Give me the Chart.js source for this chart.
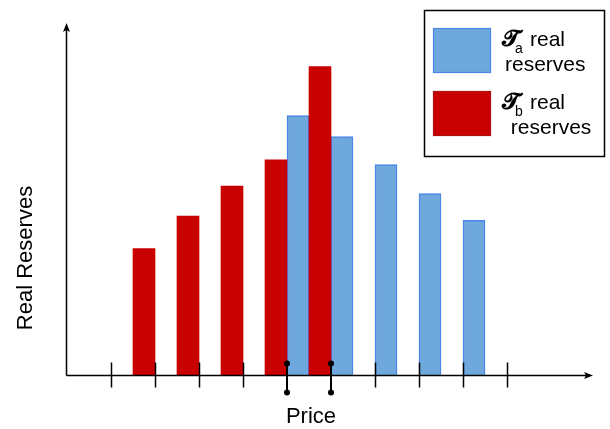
<!DOCTYPE html>
<html><head><meta charset="utf-8">
<script src="https://cdn.jsdelivr.net/npm/chart.js@4/dist/chart.umd.min.js"></script>
<style>html,body{margin:0;padding:0;background:#fff}canvas{display:block}</style>
</head><body>
<canvas id="c" width="610" height="429"></canvas>
<script>
const priceLevels = ['P0','P1','P2','P3','P4','P5','P6','P7','P8','P9'];
const taReserves = [null,null,null,null,74.1,68.1,60.1,51.8,44.2,null];
const tbReserves = [null,36.1,45.4,54.0,61.5,88.1,null,null,null,null];
const markedPrices = ['P4','P5'];
const seriesSubscripts = ['a','b'];
const seriesLine1 = ['real','real'];
const seriesLine2 = ['reserves',' reserves'];
const xAxisTitle = 'Price';
const yAxisTitle = 'Real Reserves';

const RED = '#c80000', BLUE = '#6fa8dc', BLUE_EDGE = '#4a86e8';
const FONT = '"Liberation Sans", Arial, sans-serif';

const drawing = {
  id: 'drawing',
  afterDatasetsDraw(chart) {
    const ctx = chart.ctx, xs = chart.scales.x, ys = chart.scales.y;
    const y0 = Math.round(ys.getPixelForValue(0)) + 0.5;
    const ax = xs.left - 22.5;
    ctx.save();
    ctx.strokeStyle = '#000'; ctx.fillStyle = '#000'; ctx.lineWidth = 1.5;
    // x axis
    ctx.beginPath(); ctx.moveTo(ax, y0); ctx.lineTo(586, y0); ctx.stroke();
    ctx.beginPath(); ctx.moveTo(593, y0); ctx.lineTo(584, y0 - 3.5); ctx.lineTo(586, y0); ctx.lineTo(584, y0 + 3.5); ctx.closePath(); ctx.fill();
    // y axis
    ctx.beginPath(); ctx.moveTo(ax, y0); ctx.lineTo(ax, 30); ctx.stroke();
    ctx.beginPath(); ctx.moveTo(ax, 23); ctx.lineTo(ax - 3.5, 32); ctx.lineTo(ax, 30); ctx.lineTo(ax + 3.5, 32); ctx.closePath(); ctx.fill();
    // ticks
    priceLevels.forEach((p, i) => {
      const x = Math.round(xs.getPixelForValue(i));
      if (markedPrices.includes(p)) {
        ctx.lineWidth = 2;
        ctx.beginPath(); ctx.moveTo(x, y0 - 12); ctx.lineTo(x, y0 + 17); ctx.stroke();
        ctx.beginPath(); ctx.arc(x, y0 - 12, 3, 0, Math.PI * 2); ctx.fill();
        ctx.beginPath(); ctx.arc(x, y0 + 17, 3, 0, Math.PI * 2); ctx.fill();
      } else {
        ctx.lineWidth = 1.5;
        ctx.beginPath(); ctx.moveTo(x + 0.5, y0 - 13); ctx.lineTo(x + 0.5, y0 + 12); ctx.stroke();
      }
    });
    // axis titles
    ctx.font = '22px ' + FONT;
    ctx.textAlign = 'center'; ctx.textBaseline = 'alphabetic';
    ctx.fillText(xAxisTitle, 311, 423);
    ctx.save();
    ctx.translate(32, 258); ctx.rotate(-Math.PI / 2);
    ctx.fillText(yAxisTitle, 0, 0);
    ctx.restore();
    // legend
    ctx.lineWidth = 1.5;
    ctx.strokeStyle = '#000';
    ctx.strokeRect(424.5, 10.5, 180, 146);
    const swY = [28, 91];
    const fills = [BLUE, RED], edges = [BLUE_EDGE, '#b01010'];
    for (let k = 0; k < 2; k++) {
      ctx.fillStyle = fills[k]; ctx.fillRect(433, swY[k], 58, 45);
      ctx.strokeStyle = edges[k]; ctx.lineWidth = 1.2; ctx.strokeRect(433.5, swY[k] + 0.5, 57, 44);
      ctx.fillStyle = '#000';
      ctx.textAlign = 'left';
      const base = swY[k] + 18;
      ctx.font = 'bold 23px "DejaVu Serif", serif';
      ctx.fillText('\u{1D4E3}', 502, base);
      ctx.font = '14px ' + FONT;
      ctx.fillText(seriesSubscripts[k], 515, base + 7);
      ctx.font = '21px ' + FONT;
      ctx.fillText(seriesLine1[k], 530, base);
      ctx.fillText(seriesLine2[k], 505, base + 25);
    }
    ctx.restore();
  }
};

new Chart(document.getElementById('c'), {
  type: 'bar',
  data: {
    labels: priceLevels,
    datasets: [
      { label: 'Tb real reserves', data: tbReserves, backgroundColor: RED, borderColor: RED, borderWidth: 0 },
      { label: 'Ta real reserves', data: taReserves, backgroundColor: BLUE, borderColor: BLUE_EDGE, borderWidth: 1.5 }
    ]
  },
  options: {
    responsive: false, animation: false, devicePixelRatio: 1,
    layout: { padding: { left: 89, right: 81, top: 25, bottom: 54 } },
    datasets: { bar: { categoryPercentage: 1, barPercentage: 1, grouped: true } },
    scales: {
      x: { display: false },
      y: { display: false, min: 0, max: 100 }
    },
    plugins: { legend: { display: false }, tooltip: { enabled: false } }
  },
  plugins: [drawing]
});
</script>
</body></html>
